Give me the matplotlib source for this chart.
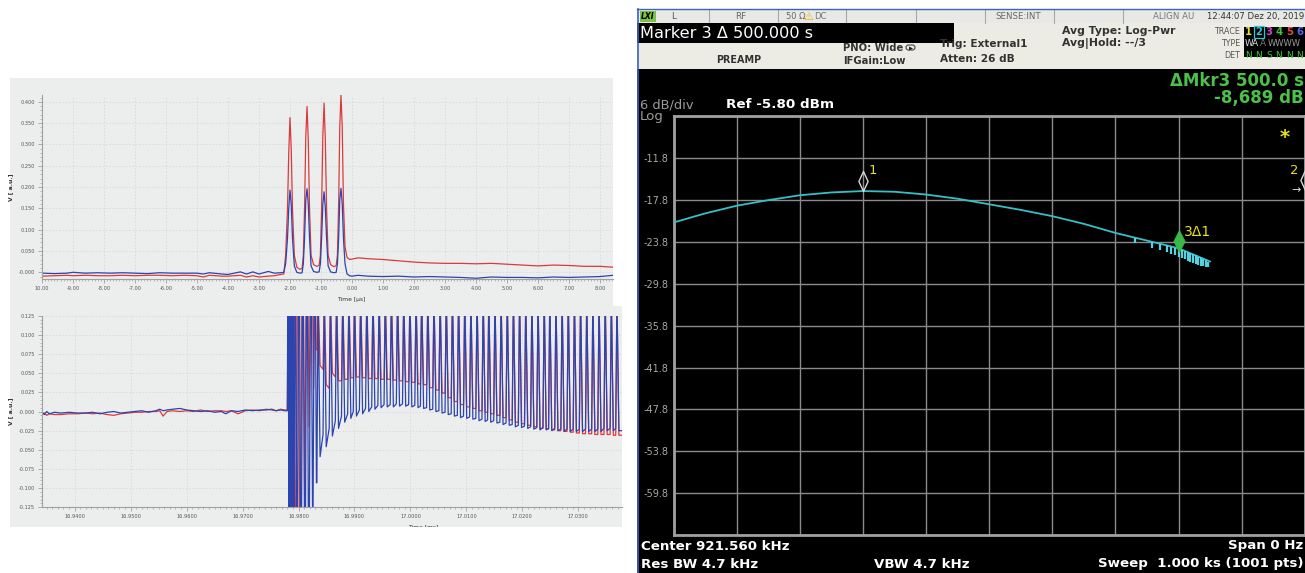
import numpy as np
import matplotlib
matplotlib.use("Agg")
import matplotlib.pyplot as plt
from matplotlib.patches import Rectangle, Polygon, FancyBboxPatch
from matplotlib.path import Path
from matplotlib.ticker import MultipleLocator

# ---------------- data: top-left (time in us) ----------------
top_t = [-10.0, -9.6, -9.2, -9.0, -8.6, -8.2, -7.8, -7.4, -7.0, -6.6, -6.2, -5.8, -5.4, -5.0, -4.8,
         -4.6, -4.2, -4.0, -3.6, -3.4, -3.2, -3.0, -2.7, -2.5, -2.3,
         -2.2, -2.14, -2.08, -2.04, -2.0, -1.96, -1.92, -1.86, -1.78, -1.68,
         -1.61, -1.57, -1.53, -1.49, -1.45, -1.41, -1.37, -1.32, -1.24, -1.14,
         -1.06, -1.02, -0.98, -0.94, -0.90, -0.86, -0.82, -0.77, -0.69, -0.58,
         -0.51, -0.47, -0.43, -0.395, -0.355, -0.315, -0.275, -0.225, -0.16, -0.08,
         0.0, 0.2, 0.5, 1.0, 1.5, 2.0, 2.5, 3.0, 3.5, 4.0, 4.5, 5.0, 5.5, 6.0, 6.5, 7.0, 7.5, 8.0, 8.42]
top_red = [-0.009, -0.008, -0.007, -0.008, -0.007, -0.008, -0.008, -0.007, -0.008, -0.007, -0.007, -0.008,
           -0.007, -0.008, -0.011, -0.007, -0.009, -0.009, -0.007, -0.011, -0.008, -0.011, -0.009, -0.008,
           -0.005,
           -0.004, 0.04, 0.15, 0.28, 0.363, 0.29, 0.15, 0.04, 0.012, 0.007,
           0.009, 0.04, 0.15, 0.32, 0.389, 0.31, 0.15, 0.04, 0.018, 0.014,
           0.016, 0.04, 0.15, 0.32, 0.397, 0.31, 0.15, 0.04, 0.018, 0.013,
           0.016, 0.04, 0.16, 0.34, 0.416, 0.34, 0.16, 0.06, 0.035, 0.030,
           0.031, 0.034, 0.032, 0.030, 0.027, 0.024, 0.022, 0.021, 0.021, 0.020, 0.021, 0.019, 0.017, 0.015,
           0.017, 0.016, 0.014, 0.014, 0.012]
top_blue = [-0.002, -0.003, -0.002, 0.000, -0.002, -0.001, -0.002, -0.001, -0.002, -0.003, -0.001, -0.002,
            -0.002, -0.002, -0.004, -0.001, -0.004, -0.005, 0.001, -0.004, 0.001, -0.004, 0.002, -0.002,
            -0.001,
            0.000, 0.02, 0.08, 0.15, 0.193, 0.16, 0.08, 0.015, 0.000, -0.002,
            -0.001, 0.02, 0.08, 0.17, 0.196, 0.16, 0.08, 0.015, 0.002, 0.000,
            0.001, 0.02, 0.08, 0.16, 0.189, 0.15, 0.08, 0.015, 0.001, -0.001,
            0.000, 0.02, 0.08, 0.17, 0.197, 0.16, 0.08, 0.02, -0.004, -0.008,
            -0.009, -0.007, -0.009, -0.010, -0.009, -0.011, -0.010, -0.011, -0.012, -0.014, -0.011, -0.012,
            -0.012, -0.013, -0.011, -0.012, -0.011, -0.010, -0.007]
top_xticks = [-10, -9, -8, -7, -6, -5, -4, -3, -2, -1, 0, 1, 2, 3, 4, 5, 6, 7, 8]
top_xlabels = ["10.00", "-9.00", "-8.00", "-7.00", "-6.00", "-5.00", "-4.00", "-3.00", "-2.00", "-1.00",
               "0.00", "1.00", "2.00", "3.00", "4.00", "5.00", "6.00", "7.00", "8.00"]
top_yticks = [0.0, 0.05, 0.10, 0.15, 0.20, 0.25, 0.30, 0.35, 0.40]
top_ylabels = ["-0.000", "0.050", "0.100", "0.150", "0.200", "0.250", "0.300", "0.350", "0.400"]

# ---------------- data: bottom-left (time in ms) ----------------
bl_pre_t = [16.9342, 16.9346, 16.9350, 16.9355, 16.9364, 16.9375, 16.9390, 16.9405, 16.9420, 16.9432,
            16.9445, 16.9458, 16.9470, 16.9482, 16.9495, 16.9508, 16.9520, 16.9532, 16.9545, 16.9552,
            16.9558, 16.9565, 16.9575, 16.9588, 16.9600, 16.9612, 16.9625, 16.9638, 16.9650, 16.9662,
            16.9670, 16.9680, 16.9692, 16.9705, 16.9718, 16.9730, 16.9742, 16.9752, 16.9760, 16.9768,
            16.9775, 16.9780]
bl_pre_blue = [-0.001, -0.004, 0.000, -0.003, -0.001, -0.002, -0.001, -0.002, -0.002, -0.001, -0.003,
               -0.001, 0.000, -0.002, -0.001, 0.000, 0.001, -0.001, 0.001, 0.003, 0.001, 0.002, 0.003,
               0.004, 0.002, 0.001, 0.000, 0.001, -0.001, 0.000, -0.003, 0.001, 0.000, 0.002, 0.001,
               0.002, 0.002, 0.003, 0.001, 0.002, 0.001, 0.001]
bl_pre_red = [-0.004, -0.002, -0.005, -0.003, -0.004, -0.004, -0.003, -0.003, -0.002, -0.003, -0.002,
              -0.004, -0.005, -0.003, -0.002, -0.001, -0.001, 0.000, 0.000, 0.001, -0.006, 0.000, 0.001,
              0.000, 0.001, 0.000, 0.002, 0.000, 0.001, 0.001, 0.000, 0.001, -0.003, 0.001, 0.002, 0.001,
              0.003, 0.002, 0.001, 0.003, 0.002, 0.002]
bl_burst_blue_t = [16.97815, 16.97830, 16.97845, 16.97860, 16.97875, 16.97890, 16.97905, 16.97920,
                   16.97945, 16.97975, 16.98010, 16.98045, 16.98080, 16.98115, 16.98150, 16.98185,
                   16.98220, 16.98255, 16.98290, 16.98320]
bl_burst_blue_v = [0.3, -0.3, 0.3, -0.3, 0.3, -0.3, 0.3, -0.3, 0.3, -0.3, 0.3, -0.3, 0.3, -0.3, 0.3,
                   -0.3, 0.3, -0.2, 0.3, -0.093]
bl_burst_red_t = [16.97830, 16.97850, 16.97870, 16.97890, 16.97915, 16.97950, 16.97990, 16.98030,
                  16.98070, 16.98110, 16.98150, 16.98190, 16.98230, 16.98270, 16.98310, 16.98340]
bl_burst_red_v = [0.3, -0.3, 0.3, -0.3, 0.3, -0.3, 0.3, -0.3, 0.3, -0.12, 0.3, -0.02, 0.3, 0.03, 0.3, 0.08]
bl_spike_t = [16.9835, 16.9846, 16.9857, 16.9868, 16.9879, 16.9890, 16.9900, 16.9911, 16.9922, 16.9933,
              16.9944, 16.9955, 16.9966, 16.9977, 16.9988, 16.9999, 17.0010, 17.0020, 17.0031, 17.0042,
              17.0053, 17.0064, 17.0075, 17.0086, 17.0097, 17.0108, 17.0119, 17.0130, 17.0140, 17.0151,
              17.0162, 17.0173, 17.0184, 17.0195, 17.0206, 17.0217, 17.0228, 17.0239, 17.0249, 17.0260,
              17.0271, 17.0282, 17.0293, 17.0304, 17.0315, 17.0326, 17.0337, 17.0348, 17.0359, 17.0369]
# level just before each spike
bl_blue_pre = [-0.093, -0.030, -0.022, -0.012, -0.006, -0.003, 0.000, 0.002, 0.004, 0.006, 0.008, 0.009,
               0.009, 0.010, 0.010, 0.009, 0.008, 0.007, 0.005, 0.003, 0.001, -0.001, -0.003, -0.005,
               -0.006, -0.007, -0.009, -0.010, -0.011, -0.012, -0.014, -0.015, -0.017, -0.018, -0.019,
               -0.020, -0.021, -0.021, -0.022, -0.022, -0.023, -0.023, -0.023, -0.023, -0.023, -0.023,
               -0.023, -0.022, -0.022, -0.022]
# trough right after each spike
bl_blue_base = [-0.059, -0.046, -0.032, -0.022, -0.014, -0.009, -0.006, -0.003, 0.000, 0.003, 0.005, 0.006,
                0.006, 0.007, 0.007, 0.006, 0.005, 0.004, 0.002, 0.000, -0.002, -0.004, -0.006, -0.008,
                -0.009, -0.010, -0.012, -0.013, -0.014, -0.015, -0.017, -0.018, -0.020, -0.021, -0.022,
                -0.023, -0.024, -0.024, -0.025, -0.025, -0.026, -0.026, -0.026, -0.026, -0.026, -0.026,
                -0.026, -0.025, -0.025, -0.025]
bl_red_pre = [0.080, 0.055, 0.030, 0.045, 0.040, 0.042, 0.044, 0.045, 0.044, 0.043, 0.043, 0.042, 0.042,
              0.041, 0.040, 0.039, 0.038, 0.036, 0.035, 0.031, 0.028, 0.024, 0.018, 0.013, 0.009, 0.006,
              0.004, 0.001, -0.001, -0.003, -0.005, -0.008, -0.011, -0.014, -0.016, -0.018, -0.020, -0.022,
              -0.023, -0.024, -0.025, -0.026, -0.027, -0.028, -0.029, -0.029, -0.030, -0.030, -0.030, -0.031]
bl_red_base = [0.060, 0.035, 0.050, 0.040, 0.042, 0.044, 0.045, 0.044, 0.043, 0.043, 0.042, 0.042, 0.041,
               0.040, 0.039, 0.038, 0.036, 0.035, 0.031, 0.028, 0.024, 0.018, 0.013, 0.009, 0.006, 0.004,
               0.001, -0.001, -0.003, -0.005, -0.008, -0.011, -0.014, -0.016, -0.018, -0.020, -0.022,
               -0.023, -0.024, -0.025, -0.026, -0.027, -0.028, -0.029, -0.029, -0.030, -0.030, -0.030,
               -0.031, -0.031]
bl_spike_peak = 0.15
bl_t_start = 16.93416
bl_t_end = 17.03775
bl_xticks = [16.94, 16.95, 16.96, 16.97, 16.98, 16.99, 17.00, 17.01, 17.02, 17.03]
bl_xlabels = ["16.9400", "16.9500", "16.9600", "16.9700", "16.9800", "16.9900", "17.0000", "17.0100",
              "17.0200", "17.0300"]
bl_yticks = [-0.125, -0.100, -0.075, -0.050, -0.025, 0.0, 0.025, 0.050, 0.075, 0.100, 0.125]
bl_ylabels = ["-0.125", "-0.100", "-0.075", "-0.050", "-0.025", "-0.000", "0.025", "0.050", "0.075",
              "0.100", "0.125"]

# ---------------- data: spectrum analyzer (zero span, time in s) ----------------
spec_t = [0, 50, 100, 150, 200, 250, 300, 350, 400, 450, 500, 550, 600, 650, 700, 750, 800, 850]
spec_db = [-21.0, -19.7, -18.6, -17.8, -17.1, -16.7, -16.5, -16.6, -17.0, -17.6, -18.4, -19.2, -20.1,
           -21.2, -22.5, -23.6, -24.7, -26.6]
noise_t = [731, 758, 770, 781, 788, 795, 800, 806, 811, 815, 819, 823, 827, 831, 835, 839, 843, 847]
noise_hi = [-23.2, -23.8, -24.1, -24.3, -24.5, -24.6, -24.7, -24.9, -25.1, -25.2, -25.4, -25.5, -25.7,
            -25.9, -26.0, -26.2, -26.4, -26.6]
noise_lo = [-24.0, -24.6, -25.0, -25.3, -25.5, -25.7, -25.9, -26.1, -26.3, -26.5, -26.6, -26.8, -26.9,
            -27.1, -27.2, -27.3, -27.4, -27.4]
mkr1 = (300, -16.5)
mkr2 = (1000, -16.3)
mkr3 = (800, -25.2)
spec_yticks = [-65.8, -59.8, -53.8, -47.8, -41.8, -35.8, -29.8, -23.8, -17.8, -11.8, -5.8]
spec_ylabels = ["", "-59.8", "-53.8", "-47.8", "-41.8", "-35.8", "-29.8", "-23.8", "-17.8", "-11.8", ""]
spec_xticks = [0, 100, 200, 300, 400, 500, 600, 700, 800, 900, 1000]

# ---------------- figure ----------------
W, H = 1305, 573
fig = plt.figure(figsize=(W / 100, H / 100), dpi=100)
fig.patch.set_facecolor("white")


def frect(x0, y0, x1, y1):
    return [x0 / W, 1 - y1 / H, (x1 - x0) / W, (y1 - y0) / H]


def fig_box(x0, y0, x1, y1, color, z=-5):
    fig.add_artist(Rectangle((x0 / W, 1 - y1 / H), (x1 - x0) / W, (y1 - y0) / H,
                             transform=fig.transFigure, facecolor=color, edgecolor="none", zorder=z))


PANEL = "#eceeee"
fig_box(10, 78, 613, 306, PANEL)
fig_box(10, 306, 622, 527, PANEL)

RED = "#dc3a3a"
BLUE = "#2c44b0"


def style_left(ax):
    ax.set_facecolor("none")
    for s in ["top", "right"]:
        ax.spines[s].set_visible(False)
    for s in ["left", "bottom"]:
        ax.spines[s].set_color("#a0a0a0")
        ax.spines[s].set_linewidth(0.8)
    ax.tick_params(which="major", length=3, width=0.6, color="#a0a0a0", labelsize=3.6,
                   labelcolor="#555555", pad=2)
    ax.tick_params(which="minor", length=1.6, width=0.5, color="#a0a0a0")
    ax.grid(True, which="major", color="#d6dada", lw=0.6, ls=(0, (2, 2)))
    ax.set_axisbelow(True)


# top-left
ax1 = fig.add_axes(frect(42, 95, 613, 279))
style_left(ax1)
ax1.plot(top_t, top_red, color=RED, lw=0.9)
ax1.plot(top_t, top_blue, color=BLUE, lw=0.9)
ax1.set_xlim(-10, 8.42)
ax1.set_ylim(-0.0157, 0.416)
ax1.set_xticks(top_xticks)
ax1.set_xticklabels(top_xlabels)
ax1.set_yticks(top_yticks)
ax1.set_yticklabels(top_ylabels)
ax1.xaxis.set_minor_locator(MultipleLocator(0.1))
ax1.yaxis.set_minor_locator(MultipleLocator(0.01))
ax1.set_ylabel("V [ a.u.]", fontsize=4.3, fontweight="bold", color="#333333")
ax1.yaxis.set_label_coords(-0.051, 0.5)
ax1.set_xlabel("Time [µs]", fontsize=4.3, color="#333333")
ax1.xaxis.set_label_coords(0.541, -0.096)


# bottom-left
def spike_train(pre_t, pre_v, burst_t, burst_v, spike_t, pre, base, peak, t_end):
    xs = list(pre_t) + list(burst_t)
    ys = list(pre_v) + list(burst_v)
    for i, t in enumerate(spike_t):
        xs += [t - 0.00022, t, t + 0.00035]
        ys += [pre[i], peak, base[i]]
    xs.append(t_end)
    ys.append(base[-1])
    return xs, ys


ax2 = fig.add_axes(frect(42, 315.7, 621.7, 507.3))
style_left(ax2)
rx, ry = spike_train(bl_pre_t, bl_pre_red, bl_burst_red_t, bl_burst_red_v, bl_spike_t, bl_red_pre,
                     bl_red_base, bl_spike_peak, bl_t_end)
bx, by = spike_train(bl_pre_t, bl_pre_blue, bl_burst_blue_t, bl_burst_blue_v, bl_spike_t, bl_blue_pre,
                     bl_blue_base, bl_spike_peak, bl_t_end)
ax2.plot(rx, ry, color=RED, lw=0.9)
ax2.plot(bx, by, color=BLUE, lw=0.9)
ax2.set_xlim(bl_t_start, bl_t_end)
ax2.set_ylim(-0.125, 0.125)
ax2.set_xticks(bl_xticks)
ax2.set_xticklabels(bl_xlabels)
ax2.set_yticks(bl_yticks)
ax2.set_yticklabels(bl_ylabels)
ax2.xaxis.set_minor_locator(MultipleLocator(0.001))
ax2.yaxis.set_minor_locator(MultipleLocator(0.005))
ax2.set_ylabel("V [ a.u.]", fontsize=4.3, fontweight="bold", color="#333333")
ax2.yaxis.set_label_coords(-0.05, 0.5)
ax2.set_xlabel("Time [ms]", fontsize=4.3, color="#333333")
ax2.xaxis.set_label_coords(0.657, -0.087)
fig_box(8, 527, 630, 545, "white", z=10)

# ---------------- right panel: spectrum analyzer screen ----------------
axR = fig.add_axes(frect(636, 0, 1305, 573))
axR.set_xlim(636, 1305)
axR.set_ylim(573, 0)
axR.axis("off")


def box(x0, y0, x1, y1, c, z=1, ec="none", lw=0):
    axR.add_patch(Rectangle((x0, y0), x1 - x0, y1 - y0, facecolor=c, edgecolor=ec, lw=lw, zorder=z))


box(637, 69.3, 1305, 573, "black")
box(637, 23, 1305, 69.3, "#edece4")
box(637, 9.5, 1305, 23, "#e8e8e6")
box(637, 23, 954, 42.7, "black", z=4)
box(1244, 26.7, 1305, 57.3, "black", z=2)
axR.plot([636.5, 1305], [9.3, 9.3], color="#3a64c0", lw=1.0, zorder=5)
axR.plot([637.5, 637.5], [9.3, 573], color="#3a64c0", lw=1.2, zorder=5)
for xs in [708.7, 777.7, 846, 915.7, 985, 1054.3, 1123]:
    axR.plot([xs, xs], [10, 23], color="#a8a8a8", lw=0.8, zorder=3)

T = dict(va="center", zorder=6)
axR.text(641, 16.5, "LXI", fontsize=5.5, fontweight="bold", style="italic", color="black",
         bbox=dict(boxstyle="square,pad=0.12", fc="#7dc242", ec="none"), **T)
axR.text(674, 16.5, "L", fontsize=6.3, color="#555555", ha="center", **T)
axR.text(741, 16.5, "RF", fontsize=6.3, color="#666666", ha="center", **T)
axR.text(786, 16.5, "50 Ω", fontsize=6.0, color="#666666", ha="left", **T)
axR.text(803, 16.5, "⚠", fontsize=8, color="#e0b800", ha="left", **T)
axR.text(814, 16.5, "DC", fontsize=6.0, color="#777777", ha="left", **T)
axR.text(1018, 16.5, "SENSE:INT", fontsize=6.2, color="#666666", ha="center", **T)
axR.text(1153, 16.5, "ALIGN AU", fontsize=6.2, color="#777777", ha="left", **T)
axR.text(1304, 16.5, "12:44:07 Dez 20, 2019", fontsize=6.1, color="#333333", ha="right", **T)

axR.text(640, 33, "Marker 3 Δ 500.000 s", fontsize=11.6, color="white", ha="left", va="center", zorder=7)
axR.text(716, 60, "PREAMP", fontsize=6.9, fontweight="bold", color="#333333", ha="left", **T)
axR.text(843, 48, "PNO: Wide", fontsize=7.2, fontweight="bold", color="#333333", ha="left", **T)
axR.text(843, 61, "IFGain:Low", fontsize=7.2, fontweight="bold", color="#333333", ha="left", **T)
axR.add_patch(FancyBboxPatch((906, 45), 9, 5, boxstyle="round,pad=0,rounding_size=2.5", fc="none",
                             ec="#444444", lw=0.8, zorder=6))
axR.add_patch(Polygon([[909, 46.5], [913, 48.5], [909, 50.5]], closed=True, fc="#222222", ec="none", zorder=6))
axR.text(940, 44.3, "Trig: External1", fontsize=7.6, fontweight="bold", color="#333333", ha="left", **T)
axR.text(940, 58.7, "Atten: 26 dB", fontsize=7.6, fontweight="bold", color="#333333", ha="left", **T)
axR.text(1062, 30.5, "Avg Type: Log-Pwr", fontsize=7.8, fontweight="bold", color="#333333", ha="left", **T)
axR.text(1062, 43.5, "Avg|Hold: --/3", fontsize=7.8, fontweight="bold", color="#333333", ha="left", **T)
axR.text(1240, 31.5, "TRACE", fontsize=5.8, color="#555555", ha="right", **T)
axR.text(1240, 43.5, "TYPE", fontsize=5.8, color="#555555", ha="right", **T)
axR.text(1240, 55.0, "DET", fontsize=5.8, color="#555555", ha="right", **T)
trace_digits = ["1", "2", "3", "4", "5", "6"]
trace_colors = ["#e8e020", "#30c8d8", "#d040d0", "#40c040", "#e04848", "#4a6ae8"]
det_letters = ["N", "N", "S", "N", "N", "N"]
digit_x = [1248.5, 1258.5, 1268.8, 1279.0, 1289.2, 1299.5]
for dx, d, c, n in zip(digit_x, trace_digits, trace_colors, det_letters):
    axR.text(dx, 32, d, fontsize=7.2, fontweight="bold", color=c, ha="center", **T)
    axR.text(dx, 55.2, n, fontsize=6.5, color="#3cc83c", ha="center", **T)
box(1253.5, 25.8, 1263.8, 38.5, "none", z=7, ec="#30c8d8", lw=0.9)
axR.text(1245, 43.5, "WA", fontsize=6.3, color="#e0e0e0", ha="left", **T)
axR.text(1260, 43.5, "A", fontsize=6.3, color="#777777", ha="left", **T)
axR.text(1268, 43.5, "WWWW", fontsize=6.0, color="#999999", ha="left", **T)

GREEN = "#4cc04a"
axR.text(1304, 81, "ΔMkr3 500.0 s", fontsize=12, fontweight="bold", color=GREEN, ha="right", **T)
axR.text(1304, 98.5, "-8,689 dB", fontsize=12, fontweight="bold", color=GREEN, ha="right", **T)
axR.text(640, 104.5, "6 dB/div", fontsize=9.4, color="#9a9a9a", ha="left", **T)
axR.text(640, 116.5, "Log", fontsize=9.6, color="#9a9a9a", ha="left", **T)
axR.text(726, 104.5, "Ref -5.80 dBm", fontsize=9.7, fontweight="bold", color="white", ha="left", **T)
axR.text(641, 546, "Center 921.560 kHz", fontsize=9.6, fontweight="bold", color="white", ha="left", **T)
axR.text(641, 564, "Res BW 4.7 kHz", fontsize=9.6, fontweight="bold", color="white", ha="left", **T)
axR.text(874, 564, "VBW 4.7 kHz", fontsize=9.6, fontweight="bold", color="white", ha="left", **T)
axR.text(1303, 546, "Span 0 Hz", fontsize=9.6, fontweight="bold", color="white", ha="right", **T)
axR.text(1303, 564, "Sweep  1.000 ks (1001 pts)", fontsize=9.6, fontweight="bold", color="white",
         ha="right", **T)
axR.text(1210, 538, "^", fontsize=6, color=GREEN, ha="center", **T)

# spectrum grid axes
axS = fig.add_axes(frect(673.7, 116.4, 1304.7, 535))
axS.set_zorder(3)
axS.set_facecolor("black")
axS.set_xlim(0, 1000)
axS.set_ylim(-65.8, -5.8)
axS.set_xticks(spec_xticks)
axS.set_xticklabels([])
axS.set_yticks(spec_yticks)
axS.set_yticklabels(spec_ylabels)
axS.tick_params(length=0, labelsize=7, labelcolor="#a8a8a8", pad=3.5)
axS.grid(True, color="#8a8a8a", lw=1.0)
for s in axS.spines.values():
    s.set_color("#a0a0a0")
    s.set_linewidth(2.0)
axS.plot(spec_t, spec_db, color="#35c0c8", lw=1.3, zorder=3)
axS.vlines(noise_t, noise_lo, noise_hi, color="#55d2e2", lw=1.6, zorder=3)

diamond = Path([(0, 0), (0.46, 1), (0, 2), (-0.46, 1), (0, 0)],
               [Path.MOVETO, Path.LINETO, Path.LINETO, Path.LINETO, Path.CLOSEPOLY])
diamond3 = Path([(0, 0), (0.52, 1), (0, 2), (-0.52, 1), (0, 0)],
                [Path.MOVETO, Path.LINETO, Path.LINETO, Path.LINETO, Path.CLOSEPOLY])
axS.plot([mkr1[0]], [mkr1[1]], marker=diamond, ms=28.8, mfc="none", mec="#d8d8d8", mew=1.0,
         linestyle="none", zorder=5)
axS.plot([mkr2[0]], [mkr2[1]], marker=diamond, ms=28.8, mfc="none", mec="#d8d8d8", mew=1.0,
         linestyle="none", zorder=5)
axS.plot([mkr3[0]], [mkr3[1]], marker=diamond3, ms=31.7, mfc="#3cb84a", mec="#3cb84a", mew=0.5,
         linestyle="none", zorder=5)

axR2 = fig.add_axes(frect(636, 0, 1305, 573))
axR2.set_zorder(4)
axR2.set_xlim(636, 1305)
axR2.set_ylim(573, 0)
axR2.axis("off")
YEL = "#e8e020"
axR2.text(869, 171, "1", fontsize=9.5, color=YEL, ha="left", va="center")
axR2.text(1184, 232, "3Δ1", fontsize=10, color=YEL, ha="left", va="center")
axR2.text(1290, 170, "2", fontsize=9.5, color=YEL, ha="left", va="center")
axR2.text(1285, 138, "*", fontsize=14, fontweight="bold", color=YEL, ha="center", va="center")
axR2.text(1296, 190, "→", fontsize=8, color="#d8d8d8", ha="center", va="center")

fig.savefig("out.png", dpi=100)
